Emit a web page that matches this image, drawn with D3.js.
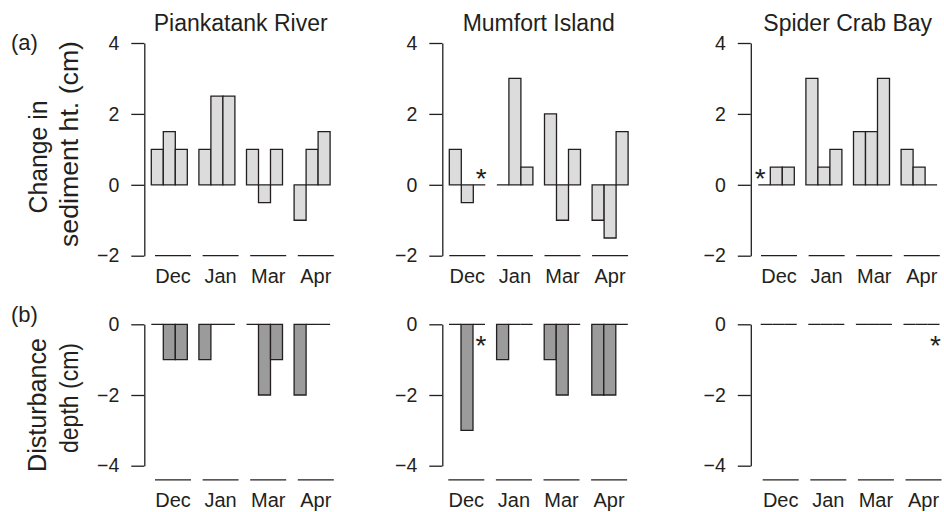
<!DOCTYPE html>
<html><head><meta charset="utf-8">
<script src="https://cdn.jsdelivr.net/npm/d3@7"></script>
<style>
html,body{margin:0;padding:0;background:#fff;}
text{font-family:"Liberation Sans",Arial,Helvetica,sans-serif;fill:#231f20;}
</style></head>
<body><svg id="chart" width="944" height="512"></svg>
<script>
// ---- data ----
const sites = ["Piankatank River", "Mumfort Island", "Spider Crab Bay"];
const months = ["Dec", "Jan", "Mar", "Apr"];
const replicates = [0, 1, 2];
// change in sediment height (cm), [month][replicate]
const piankatankHeight = [[1, 1.5, 1], [1, 2.5, 2.5], [1, -0.5, 1], [-1, 1, 1.5]];
const mumfortHeight    = [[1, -0.5, 0], [0, 3, 0.5], [2, -1, 1], [-1, -1.5, 1.5]];
const spiderHeight     = [[0, 0.5, 0.5], [3, 0.5, 1], [1.5, 1.5, 3], [1, 0.5, 0]];
// disturbance depth (cm)
const piankatankDepth = [[0, -1, -1], [-1, 0, 0], [0, -2, -1], [-2, 0, 0]];
const mumfortDepth    = [[0, -3, 0], [-1, 0, 0], [-1, -2, 0], [-2, -2, 0]];
const spiderDepth     = [[0, 0, 0], [0, 0, 0], [0, 0, 0], [0, 0, 0]];
const heightTicks = [-2, 0, 2, 4];
const depthTicks = [-4, -2, 0];
// missing samples (asterisk): site index, month index, replicate index
const missingHeight = [{site: 1, month: 0, rep: 2}, {site: 2, month: 0, rep: 0}];
const missingDepth  = [{site: 1, month: 0, rep: 2}, {site: 2, month: 3, rep: 2}];

// ---- layout ----
const svg = d3.select("#chart");
const ink = "#231f20";
const axisX = [144.3, 442.3, 750.8];
const groupStep = 47.6, groupW = 36;
const rows = [
  {data: [piankatankHeight, mumfortHeight, spiderHeight], ticks: heightTicks, missing: missingHeight,
   domain: [-2, 4], range: [255.7, 43], segV: -2, fill: "#dcdcdc",
   barX0: [151.3, 449.3, 758.3], segX0: [155, 449.3, 761], labelY: 282.5, astDy: 3.5},
  {data: [piankatankDepth, mumfortDepth, spiderDepth], ticks: depthTicks, missing: missingDepth,
   domain: [-4, 0], range: [465.7, 324.3], segV: -4.4, fill: "#9b9b9b",
   barX0: [151.3, 449, 760.7], segX0: [155, 448.3, 762.7], labelY: 507.3, astDy: 30.5}
];
const fmt = d => d < 0 ? "\u2212" + Math.abs(d) : String(d);

rows.forEach((row, r) => {
  const y = d3.scaleLinear().domain(row.domain).range(row.range);
  sites.forEach((site, s) => {
    const g = svg.append("g");
    // y axis
    const ax = g.append("g").attr("transform", `translate(${axisX[s]},0)`)
      .call(d3.axisLeft(y).tickValues(row.ticks).tickFormat(fmt).tickSize(13).tickSizeOuter(0).tickPadding(12));
    ax.selectAll("path,line").attr("stroke", ink).attr("stroke-width", 1.3);
    ax.selectAll("text").attr("fill", ink).style("font-size", "19.5px")
      .style("font-family", '"Liberation Sans",Arial,sans-serif');

    const xb = d3.scaleBand().domain(months)
      .range([row.barX0[s], row.barX0[s] + 3 * groupStep + groupW]).paddingInner(1 - groupW / groupStep).paddingOuter(0);
    const xs = d3.scaleBand().domain(months)
      .range([row.segX0[s], row.segX0[s] + 3 * groupStep + groupW]).paddingInner(1 - groupW / groupStep).paddingOuter(0);
    const xr = d3.scaleBand().domain(replicates).range([0, xb.bandwidth()]).padding(0);

    // bars
    const vals = row.data[s];
    months.forEach((m, mi) => {
      replicates.forEach(rep => {
        const v = vals[mi][rep];
        const x0 = xb(m) + xr(rep), x1 = x0 + xr.bandwidth();
        const y0 = y(0), y1 = y(v);
        g.append("path")
          .attr("d", `M${x0},${y0}V${y1}H${x1}V${y0}Z`)
          .attr("fill", row.fill).attr("stroke", ink).attr("stroke-width", 1.3)
          .attr("stroke-linejoin", "miter");
      });
      // bottom segment + month label
      g.append("line").attr("x1", xs(m)).attr("x2", xs(m) + xs.bandwidth())
        .attr("y1", y(row.segV)).attr("y2", y(row.segV)).attr("stroke", ink).attr("stroke-width", 1.3);
      g.append("text").attr("x", xs(m) + xs.bandwidth() / 2).attr("y", row.labelY)
        .attr("text-anchor", "middle").style("font-size", "20px").text(m);
    });
    // asterisks
    row.missing.filter(d => d.site === s).forEach(d => {
      const m = months[d.month];
      const cx = xb(m) + xr(d.rep) + xr.bandwidth() / 2 + (d.rep === 0 ? -4 : 2);
      g.append("text").attr("x", cx).attr("y", y(0) + row.astDy)
        .attr("text-anchor", "middle").style("font-size", "28px").text("*");
    });
    // site titles
    if (r === 0) {
      svg.append("text").attr("x", row.barX0[s] + (3 * groupStep + groupW) / 2).attr("y", 31)
        .attr("text-anchor", "middle").style("font-size", "23px").text(site);
    }
  });
});

// panel letters
svg.append("text").attr("x", 11).attr("y", 50).style("font-size", "22px").text("(a)");
svg.append("text").attr("x", 11).attr("y", 322).style("font-size", "22px").text("(b)");

// y axis titles
function vtext(x, cy, str, len) {
  const t = svg.append("text").attr("transform", `translate(${x},${cy}) rotate(-90)`)
    .attr("text-anchor", "middle").style("font-size", "25px").text(str);
  if (len) t.attr("textLength", len).attr("lengthAdjust", "spacingAndGlyphs");
}
vtext(47, 157, "Change in", 113);
vtext(78, 144, "sediment ht. (cm)", 206);
vtext(46, 405, "Disturbance", 134);
vtext(78, 398, "depth (cm)", 110);
</script></body></html>
